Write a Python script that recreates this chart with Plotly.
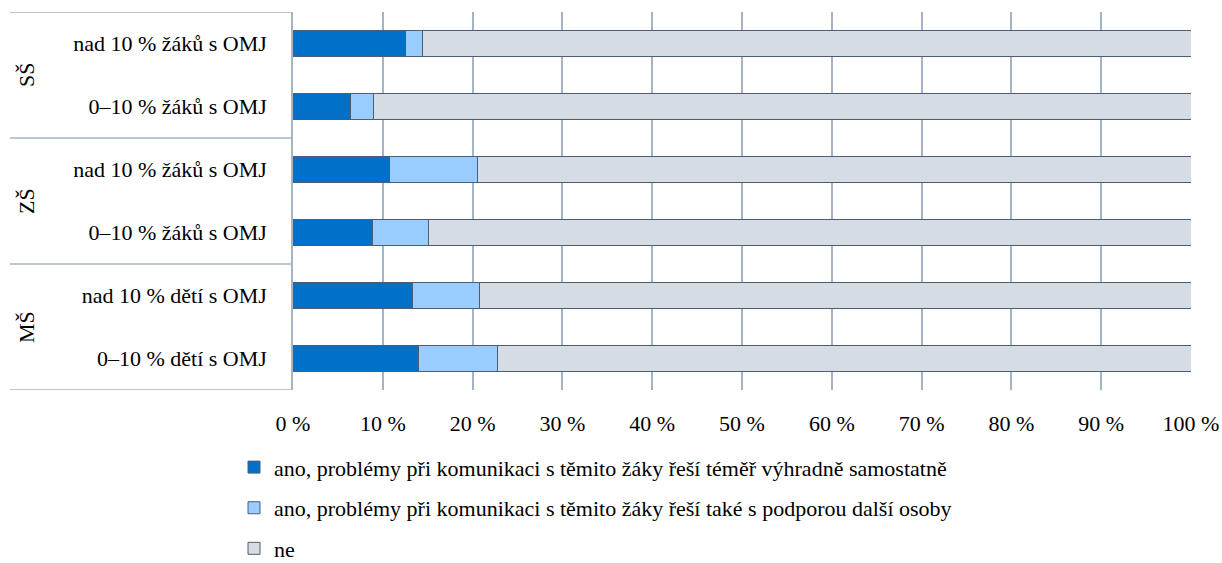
import plotly.graph_objects as go

categories = ["0–10 % dětí s OMJ", "nad 10 % dětí s OMJ",
              "0–10 % žáků s OMJ", "nad 10 % žáků s OMJ",
              "0–10 % žáků s OMJ", "nad 10 % žáků s OMJ"]
groups = ["MŠ", "ZŠ", "SŠ"]
series_names = ["ano, problémy při komunikaci s těmito žáky řeší téměř výhradně samostatně",
                "ano, problémy při komunikaci s těmito žáky řeší také s podporou další osoby",
                "ne"]
samostatne = [14.0, 13.3, 8.8, 10.7, 6.4, 12.5]
s_podporou = [8.8, 7.5, 6.25, 9.9, 2.6, 1.9]
ne = [round(100 - a - b, 2) for a, b in zip(samostatne, s_podporou)]
colors = ["#0070C9", "#99CCFF", "#D6DCE4"]
x_ticks = list(range(0, 101, 10))
x_ticktext = [f"{v} %" for v in x_ticks]

ypos = list(range(len(categories)))
FONT = "Liberation Serif, Times New Roman, serif"
FS = 22
GRID = "#A5B3C6"

fig = go.Figure()
for i, (name, vals) in enumerate(zip(series_names, [samostatne, s_podporou, ne])):
    fig.add_trace(go.Bar(
        y=ypos, x=vals, name=name, orientation="h",
        marker=dict(color=colors[i], line=dict(color="#4D5D73", width=1)),
        width=0.4, legendgroup=f"g{i}",
    ))

fig.update_layout(
    barmode="stack",
    width=1222, height=563,
    margin=dict(l=293, r=31, t=12, b=173, autoexpand=False),
    paper_bgcolor="white", plot_bgcolor="white",
    font=dict(family=FONT, size=FS, color="black"),
    xaxis=dict(range=[0, 100], tickvals=x_ticks, ticktext=x_ticktext,
               showgrid=True, gridcolor=GRID, gridwidth=1.5, zeroline=False,
               ticks="outside", ticklen=14, tickcolor="rgba(0,0,0,0)",
               showline=False, fixedrange=True, automargin=False),
    yaxis=dict(range=[-0.5, 5.5], tickvals=ypos, ticktext=categories,
               showgrid=False, zeroline=False, ticks="outside", ticklen=20,
               tickcolor="rgba(0,0,0,0)", showline=True, linecolor=GRID,
               linewidth=1.5, fixedrange=True, automargin=False),
    legend=dict(orientation="v", x=(234 - 293) / 898, xanchor="left", xref="paper",
                y=-0.149, yanchor="top", yref="paper",
                font=dict(family=FONT, size=FS),
                tracegroupgap=9, traceorder="grouped", bgcolor="rgba(0,0,0,0)"),
    showlegend=True,
)

# group dividers and labels
left_x = -283 / 898
for k in range(4):
    yv = -0.5 + 2 * k
    fig.add_shape(type="line", xref="paper", yref="y", x0=left_x, x1=0,
                  y0=yv, y1=yv, line=dict(color=GRID, width=1.5))
for k, g in enumerate(groups):
    fig.add_annotation(text=g, xref="paper", yref="y", x=-267 / 898, y=2 * k + 0.5,
                       xanchor="center", yanchor="middle",
                       showarrow=False, textangle=-90,
                       font=dict(family=FONT, size=FS, color="black"))

fig.write_html("out.html", config={"displayModeBar": False},
               post_script="document.body.style.margin='0';")
